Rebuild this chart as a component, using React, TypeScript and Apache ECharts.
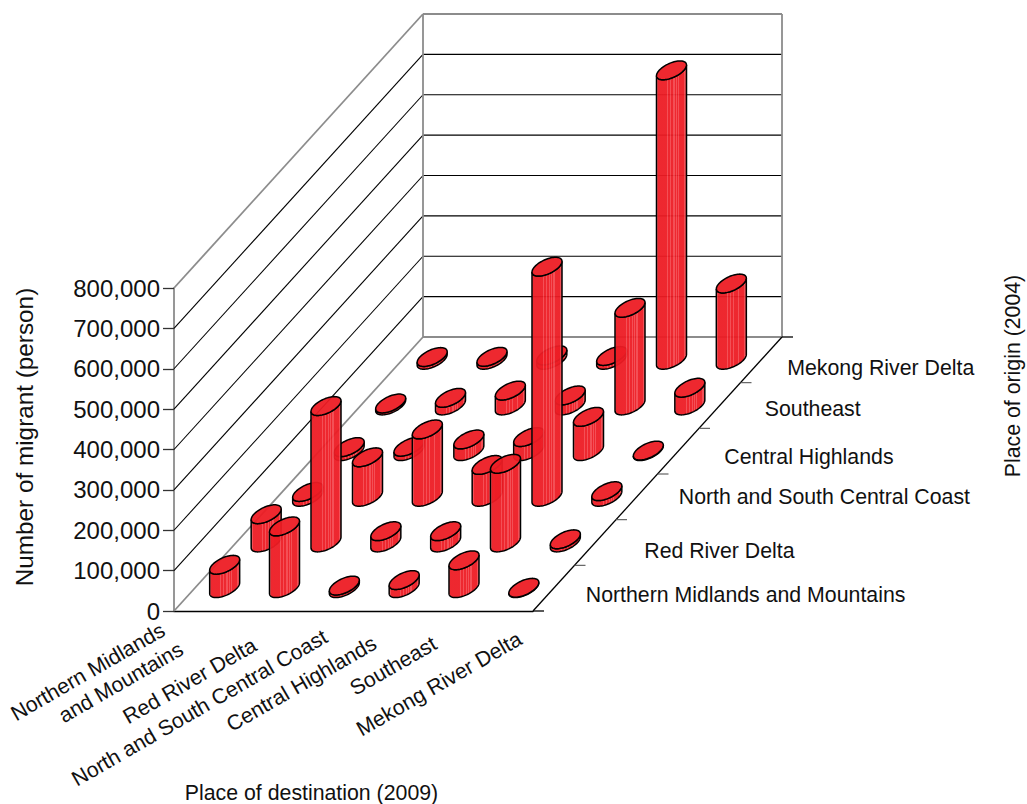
import React, { useEffect, useRef } from "react";
import * as echarts from "echarts";

const destinations = [
  "Northern Midlands\nand Mountains",
  "Red River Delta",
  "North and South Central Coast",
  "Central Highlands",
  "Southeast",
  "Mekong River Delta",
];
const origins = [
  "Northern Midlands and Mountains",
  "Red River Delta",
  "North and South Central Coast",
  "Central Highlands",
  "Southeast",
  "Mekong River Delta",
];

// Migrants by origin (outer) and destination (inner)
const fromMidlands = [58000, 153000, 6500, 20000, 69000, 1000];
const fromRedRiver = [70000, 338000, 28000, 28000, 195000, 8000];
const fromCentralCoast = [12000, 98000, 167000, 79000, 570000, 14000];
const fromHighlands = [10000, 11000, 29000, 35000, 85000, 1500];
const fromSoutheast = [5000, 19000, 37000, 25000, 242000, 44000];
const fromMekong = [7000, 7500, 11000, 9500, 717000, 189000];
const originRows = [fromMidlands, fromRedRiver, fromCentralCoast, fromHighlands, fromSoutheast, fromMekong];

const valueTicks = [0, 100000, 200000, 300000, 400000, 500000, 600000, 700000, 800000];

// Screen shift of the oblique floor per origin row
const DEPTH_X = 249 / 6;
const DEPTH_Y = -274 / 6;
const RADIUS = 0.206;

const FONT = "Liberation Sans";
const RED = "#ED1C24";
const LIGHT = "#F3464D";
const GREY = "#8C8C8C";

// Where each line of a rotated destination label sits relative to its column
const destinationLabelShift = [
  [[-116, 61], [-83, 71.5]],
  [[-74, 70]],
  [[-124, 97]],
  [[-82, 73]],
  [[-50, 55]],
  [[-64, 73]],
];
const originLabelShift = [[32, 7], [49, 8], [42, 0.5], [46, 5.5], [45, 3.5], [26, 8.5]];

// Vertical stripes of the cylinder shading: [end of band, colour]
const stripeBands: [number, string][] = [
  [0.05, LIGHT], [0.36, RED], [0.39, LIGHT], [0.46, RED], [0.49, LIGHT], [0.56, RED], [0.6, LIGHT],
  [0.64, RED], [0.67, LIGHT], [0.71, RED], [0.75, LIGHT], [0.92, RED], [1, LIGHT],
];

function stripeStops() {
  const stops: { offset: number; color: string }[] = [];
  let from = 0;
  for (const [to, color] of stripeBands) {
    stops.push({ offset: from, color }, { offset: to, color });
    from = to;
  }
  return stops;
}

// Farthest rows first so nearer cylinders paint over them
const cells: number[][] = [];
for (let o = origins.length - 1; o >= 0; o--) {
  originRows[o].forEach((v, d) => cells.push([d, o, v]));
}

function renderCylinder(_params: any, api: any) {
  const d = api.value(0);
  const o = api.value(1);
  const v = api.value(2);
  const cell = api.size([1, 0])[0];
  const shift = (p: number[]) => [p[0] + (o + 0.5) * DEPTH_X, p[1] + (o + 0.5) * DEPTH_Y];
  const base = shift(api.coord([d, 0]));
  const top = shift(api.coord([d, v]));
  const u = RADIUS * cell;
  const vx = RADIUS * DEPTH_X;
  const vy = RADIUS * DEPTH_Y;
  const at = (c: number[], t: number) => [c[0] + u * Math.cos(t) + vx * Math.sin(t), c[1] + vy * Math.sin(t)];
  const right = Math.atan2(vx, u);
  const steps = 36;
  const lowerArc = (c: number[]) => {
    const pts: number[][] = [];
    for (let i = 0; i <= steps; i++) pts.push(at(c, right + Math.PI + (Math.PI * i) / steps));
    return pts;
  };
  const ring: number[][] = [];
  for (let i = 0; i < steps * 2; i++) ring.push(at(top, (Math.PI * i) / steps));
  const side = [...lowerArc(base), ...lowerArc(top).reverse()];
  return {
    type: "group",
    children: [
      {
        type: "polygon",
        shape: { points: side },
        style: {
          fill: new echarts.graphic.LinearGradient(0, 0, 1, 0, stripeStops()),
          fillOpacity: 0.95,
          stroke: "#000",
          lineWidth: 1.5,
        },
      },
      {
        type: "polygon",
        shape: { points: ring },
        style: { fill: RED, fillOpacity: 0.95, stroke: "#000", lineWidth: 1.5 },
      },
    ],
  };
}

function renderWallLine(_params: any, api: any) {
  const v = api.value(1);
  const cell = api.size([1, 0])[0];
  const p = api.coord([0, v]);
  const x0 = p[0] - cell / 2;
  const x1 = x0 + cell * destinations.length;
  const bx = x0 + DEPTH_X * origins.length;
  const by = p[1] + DEPTH_Y * origins.length;
  const outer = v === valueTicks[0] || v === valueTicks[valueTicks.length - 1];
  const style = { stroke: outer ? GREY : "#000", lineWidth: outer ? 1.8 : 1.1 };
  return {
    type: "group",
    children: [
      { type: "line", shape: { x1: x0, y1: p[1], x2: bx, y2: by }, style },
      { type: "line", shape: { x1: bx, y1: by, x2: x1 + DEPTH_X * origins.length, y2: by }, style },
    ],
  };
}

function renderFrame(_params: any, api: any) {
  const cell = api.size([1, 0])[0];
  const low = api.coord([0, valueTicks[0]]);
  const high = api.coord([0, valueTicks[valueTicks.length - 1]]);
  const x0 = low[0] - cell / 2;
  const x1 = x0 + cell * destinations.length;
  const dx = DEPTH_X * origins.length;
  const dy = DEPTH_Y * origins.length;
  const grey = { stroke: GREY, lineWidth: 1.8 };
  const dark = { stroke: "#000", lineWidth: 1.3 };
  const children: any[] = [
    { type: "line", shape: { x1: x0 + dx, y1: low[1] + dy, x2: x0 + dx, y2: high[1] + dy }, style: grey },
    { type: "line", shape: { x1: x1 + dx, y1: low[1] + dy, x2: x1 + dx, y2: high[1] + dy }, style: grey },
    { type: "line", shape: { x1, y1: low[1], x2: x1 + dx, y2: low[1] + dy }, style: dark },
    { type: "line", shape: { x1, y1: low[1], x2: x1 + 11, y2: low[1] }, style: dark },
  ];
  for (let k = 1; k <= origins.length; k++) {
    const tx = x1 + DEPTH_X * k;
    const ty = low[1] + DEPTH_Y * k;
    children.push({
      type: "line",
      shape: { x1: tx, y1: ty, x2: tx + 11, y2: ty },
      style: k === origins.length ? dark : { stroke: "#555", lineWidth: 1.1 },
    });
  }
  return { type: "group", children };
}

function renderDestinationLabel(params: any, api: any) {
  const i = params.dataIndex;
  const p = api.coord([i, 0]);
  return {
    type: "group",
    children: destinations[i].split("\n").map((line, n) => ({
      type: "text",
      x: p[0] + destinationLabelShift[i][n][0],
      y: p[1] + destinationLabelShift[i][n][1],
      rotation: (30 * Math.PI) / 180,
      style: {
        text: line,
        font: `21.3px "${FONT}"`,
        fill: "#111",
        align: "center",
        verticalAlign: "middle",
      },
    })),
  };
}

function renderOriginLabel(params: any, api: any) {
  const o = params.dataIndex;
  const cell = api.size([1, 0])[0];
  const p = api.coord([0, 0]);
  return {
    type: "text",
    x: p[0] - cell / 2 + cell * destinations.length + (o + 0.5) * DEPTH_X + originLabelShift[o][0],
    y: p[1] + (o + 0.5) * DEPTH_Y + originLabelShift[o][1],
    style: {
      text: origins[o],
      font: `21.3px "${FONT}"`,
      fill: "#111",
      align: "left",
      verticalAlign: "middle",
    },
  };
}

export default function App() {
  const ref = useRef<HTMLDivElement>(null);
  useEffect(() => {
    const chart = echarts.init(ref.current!, undefined, { renderer: "svg" });
    chart.setOption({
      animation: false,
      backgroundColor: "#fff",
      grid: { left: 174, top: 288, width: 359, height: 323 },
      xAxis: {
        type: "category",
        data: destinations,
        axisLine: { lineStyle: { color: "#000", width: 1.3 } },
        axisTick: { length: 11, lineStyle: { color: "#333", width: 1.3 } },
        axisLabel: { show: false },
        splitLine: { show: false },
      },
      yAxis: {
        type: "value",
        min: 0,
        max: 800000,
        interval: 100000,
        axisLine: { show: true, lineStyle: { color: GREY, width: 1.8 } },
        axisTick: { show: true, length: 11, lineStyle: { color: "#333", width: 1.3 } },
        axisLabel: {
          fontFamily: FONT,
          fontSize: 24,
          color: "#111",
          margin: 14,
          formatter: (v: number) => v.toLocaleString("en-US"),
        },
        splitLine: { show: false },
      },
      graphic: [
        {
          type: "text",
          x: 24,
          y: 437,
          rotation: Math.PI / 2,
          style: {
            text: "Number of migrant (person)",
            font: `24.3px "${FONT}"`,
            fill: "#111",
            align: "center",
            verticalAlign: "middle",
          },
        },
        {
          type: "text",
          x: 311.5,
          y: 793,
          style: {
            text: "Place of destination (2009)",
            font: `21.3px "${FONT}"`,
            fill: "#111",
            align: "center",
            verticalAlign: "middle",
          },
        },
        {
          type: "text",
          x: 1013,
          y: 376,
          rotation: Math.PI / 2,
          style: {
            text: "Place of origin (2004)",
            font: `21.3px "${FONT}"`,
            fill: "#111",
            align: "center",
            verticalAlign: "middle",
          },
        },
      ],
      series: [
        {
          type: "custom",
          z: 1,
          coordinateSystem: "cartesian2d",
          renderItem: renderWallLine,
          encode: { x: 0, y: 1 },
          data: valueTicks.map((v) => [0, v]),
          silent: true,
        },
        {
          type: "custom",
          z: 1,
          coordinateSystem: "cartesian2d",
          renderItem: renderFrame,
          encode: { x: 0, y: 1 },
          data: [[0, 0]],
          silent: true,
        },
        {
          type: "custom",
          z: 3,
          coordinateSystem: "cartesian2d",
          renderItem: renderCylinder,
          encode: { x: 0, y: 2 },
          data: cells,
          silent: true,
        },
        {
          type: "custom",
          z: 4,
          coordinateSystem: "cartesian2d",
          renderItem: renderDestinationLabel,
          encode: { x: 0, y: 1 },
          data: destinations.map((_, i) => [i, 0]),
          silent: true,
        },
        {
          type: "custom",
          z: 4,
          coordinateSystem: "cartesian2d",
          renderItem: renderOriginLabel,
          encode: { x: 0, y: 1 },
          data: origins.map(() => [0, 0]),
          silent: true,
        },
      ],
    });
    return () => chart.dispose();
  }, []);
  return <div ref={ref} style={{ position: "absolute", left: 0, top: 0, width: 1027, height: 804 }} />;
}
